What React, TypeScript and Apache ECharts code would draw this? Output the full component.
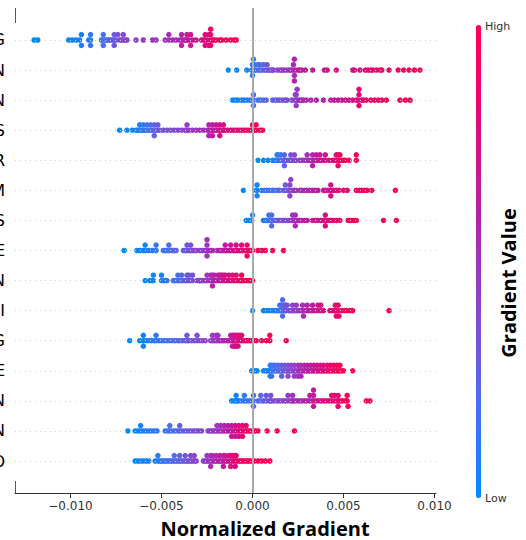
import React, { useEffect, useRef } from "react";
import * as echarts from "echarts";

// Feature labels (only the last letter is visible in the reference)
const featureLabels = ["G", "N", "N", "S", "R", "M", "S", "E", "N", "I", "G", "E", "N", "N", "O"];
const tickValues = [-0.01, -0.005, 0, 0.005, 0.01];

// Normalized gradient values per feature row, in units of 1e-3
const row01 = [-12.0, -11.8, -10.1, -9.9, -9.7, -9.5, -9.4, -9.4, -9.0, -8.9, -8.9, -8.9,
  -8.3, -8.2, -8.2, -8.1, -8.0, -7.9, -7.8, -7.7, -7.6, -7.6, -7.5, -7.4, -7.3, -7.2, -7.1, -7.1, -7.0, -6.9, -8.2, -7.6,
  -6.4, -6.0, -5.5, -5.3, -4.8, -4.6, -4.6, -4.4,
  -4.2, -4.0, -3.9, -3.9, -3.8, -3.7, -3.6, -3.6, -3.5, -3.4, -3.4, -3.3, -3.1, -3.9,
  -2.8, -2.7, -2.6, -2.6, -2.5, -2.4, -2.4, -2.3, -2.3, -2.3, -2.3, -2.2, -2.15, -2.6,
  -2.0, -1.8, -1.7, -1.45, -1.2, -1.0, -0.9];
const row02 = [-1.33, -0.87, -0.32,
  -0.05, 0.0, 0.0, 0.0, 0.05, 0.1, 0.1, 0.2, 0.3, 0.35, 0.45, 0.55, 0.6, 0.7, 0.8, 0.8, 0.9, 1.0, 1.1, 1.15, 0.4,
  1.35, 1.5, 1.6, 1.7, 1.85, 2.0, 2.1, 2.2, 2.25, 2.3, 2.3, 2.3, 2.35, 2.5, 2.6, 2.7, 2.9, 3.3,
  3.95, 4.1, 4.6, 5.5, 5.6, 5.9,
  6.2, 6.35, 6.5, 6.6, 6.8, 7.0, 7.1, 7.5, 8.0, 8.3, 8.6, 8.9, 9.2];
const row03 = [-1.1, -0.95, -0.8, -0.6, -0.45, -0.3, -0.15,
  0.0, 0.05, 0.05, 0.05, 0.3, 0.45, 0.6, 0.75,
  1.1, 1.25, 1.4, 1.5, 1.65, 1.8, 1.9,
  2.15, 2.3, 2.35, 2.4, 2.4, 2.4, 2.45, 2.5, 2.6, 2.7, 2.8, 2.95,
  3.2, 3.5, 3.9, 4.3, 4.5, 4.7, 4.9, 5.1, 5.3,
  5.5, 5.7, 5.8, 5.85, 5.85, 5.85, 6.0, 6.1, 6.25,
  6.5, 6.7, 6.9, 7.1, 7.35, 8.1, 8.4, 8.65];
const row04 = [-7.3, -6.9, -6.6,
  -6.4, -6.3, -6.2, -6.2, -6.1, -6.0, -6.0, -5.9, -5.8, -5.8, -5.7, -5.6, -5.6, -5.5, -5.4, -5.4, -5.4, -5.3, -5.2, -5.2, -5.1,
  -4.9, -4.7, -4.5, -4.3, -4.1, -3.9, -3.7, -3.6, -3.6, -3.5, -3.3, -3.1, -2.9, -2.7,
  -2.5, -2.4, -2.4, -2.4, -2.3, -2.2, -2.2, -2.2, -2.1, -2.0, -2.0, -1.9, -1.8, -1.8, -1.8, -1.7, -1.6, -1.6, -1.5,
  -1.35, -1.2, -1.05, -0.9, -0.75, -0.6, -0.45, -0.3, -0.15, 0.0, 0.0, 0.1, 0.2, 0.2, 0.4, 0.55];
const row05 = [0.3, 0.6, 0.85,
  1.1, 1.2, 1.3, 1.35, 1.4, 1.4, 1.5, 1.55, 1.55, 1.6, 1.7, 1.75, 1.75, 1.75, 1.8, 1.9, 2.0, 2.1, 2.1, 2.2, 2.3, 2.3, 2.4,
  2.6, 2.7, 2.8, 2.9, 3.0, 3.0, 3.1, 3.2, 3.3, 3.3, 3.3, 3.4, 3.5, 3.5, 3.6, 3.7, 3.7, 3.8, 3.9, 4.0, 4.0, 4.2, 4.4,
  4.5, 4.6, 4.6, 4.7, 4.7, 4.7, 4.8, 4.8, 4.9, 5.0, 5.1, 5.3, 5.7, 5.7];
const row06 = [-0.5,
  0.2, 0.25, 0.25, 0.25, 0.5, 0.65, 0.8, 0.95, 1.1, 1.25, 1.4, 1.5,
  1.7, 1.8, 1.8, 1.9, 2.0, 2.05, 2.05, 2.05, 2.1, 2.2, 2.3, 2.4,
  2.6, 2.7, 2.85, 3.0, 3.15, 3.3, 3.45, 3.6,
  3.9, 4.0, 4.15, 4.3, 4.3, 4.3, 4.45, 4.6, 4.75, 5.0, 5.2,
  5.7, 5.85, 6.0, 6.15, 6.3, 6.55, 7.85];
const row07 = [-0.35, -0.2, -0.05, 0.0,
  0.6, 0.7, 0.8, 0.9, 0.9, 1.0, 1.05, 1.05, 1.05, 1.1, 1.2, 1.3, 1.4, 1.5, 1.6, 1.7, 1.8,
  1.95, 2.05, 2.15, 2.2, 2.2, 2.25, 2.35, 2.35, 2.35, 2.45, 2.55, 2.7, 2.85, 3.0,
  3.3, 3.45, 3.6, 3.75, 3.9, 4.0, 4.0, 4.0, 4.15, 4.3, 4.45, 4.6, 4.8,
  5.25, 5.4, 5.55, 5.7, 7.2, 7.9];
const row08 = [-7.05,
  -6.35, -6.2, -6.0, -5.9, -5.9, -5.7, -5.5, -5.3, -5.3,
  -4.9, -4.8, -4.7, -4.6, -4.6, -4.5, -4.4, -4.3, -4.2,
  -3.8, -3.7, -3.6, -3.6, -3.5, -3.4, -3.4, -3.3, -3.2, -3.1,
  -2.9, -2.75, -2.6, -2.5, -2.5, -2.5, -2.5, -2.4, -2.3, -2.2,
  -1.95, -1.8, -1.7, -1.6, -1.5, -1.5, -1.4, -1.3, -1.2, -1.2, -1.1, -1.0, -0.9, -0.9, -0.8, -0.7, -0.6, -0.6,
  -0.5, -0.4, -0.3, -0.3, -0.3, -0.2, -0.1, 0.0, 0.3, 0.5, 0.7, 1.1, 1.7];
const row09 = [-5.9, -5.65, -5.5, -5.45, -5.45,
  -5.0, -5.0, -4.9, -4.8, -4.7,
  -4.35, -4.3, -4.2, -4.1, -4.1, -4.0, -3.9, -3.9, -3.8, -3.7, -3.6, -3.6, -3.5, -3.5, -3.4, -3.3, -3.3,
  -3.05, -2.95, -2.9, -2.85, -2.75, -2.7, -2.6, -2.5, -2.5, -2.4, -2.3, -2.3, -2.2, -2.2, -2.2, -2.1, -2.1, -2.0, -1.9, -1.9,
  -1.8, -1.8, -1.7, -1.7, -1.6, -1.6, -1.5, -1.5, -1.4, -1.3, -1.3, -1.2, -1.1, -1.1, -1.0, -0.9, -0.9, -0.8, -0.7,
  -0.6, -0.6, -0.5, -0.4, -0.3, -0.2, -0.1, 0.0];
const row10 = [0.0,
  0.6, 0.75, 0.9, 1.05, 1.15,
  1.3, 1.4, 1.5, 1.5, 1.55, 1.6, 1.65, 1.65, 1.65, 1.65, 1.7, 1.75, 1.8, 1.8, 1.85, 1.9,
  2.0, 2.1, 2.2, 2.2, 2.3, 2.4, 2.4, 2.5, 2.6, 2.7, 2.75, 2.75, 2.8, 2.9, 3.0, 3.0, 3.1, 3.2, 3.3, 3.3, 3.45, 3.6, 3.6, 3.75, 3.75, 3.9,
  4.25, 4.4, 4.5, 4.55, 4.55, 4.6, 4.7, 4.7, 4.75, 4.9, 5.05, 5.2, 5.35, 5.5, 7.5];
const row11 = [-6.75,
  -6.2, -6.0, -6.0, -6.0, -5.85, -5.7, -5.55, -5.4, -5.3, -5.3, -5.15, -5.0, -4.85, -4.7, -4.55, -4.4, -4.25, -4.1,
  -4.0, -3.85, -3.7, -3.6, -3.6, -3.5, -3.35, -3.2, -3.05, -3.05, -2.9, -2.75, -2.6,
  -2.3, -2.2, -2.2, -2.1, -2.0, -2.0, -1.9, -1.9, -1.8, -1.7, -1.6, -1.5, -1.4, -1.3, -1.2, -1.2,
  -1.1, -1.1, -1.1, -1.0, -1.0, -1.0, -0.9, -0.9, -0.9, -0.8, -0.8, -0.8, -0.7, -0.7, -0.6, -0.6,
  -0.5, -0.4, -0.3, -0.2, -0.1, 0.0, 0.05, 0.2, 0.5, 0.75, 0.95, 0.95, 1.85];
const row12 = [-0.05, 0.05, 0.15, 0.25,
  0.6, 0.72, 0.8, 0.9, 0.97, 1.05, 1.16, 1.25, 1.33, 1.42, 1.5, 1.6, 1.68, 1.77, 1.85, 1.95, 2.05, 2.12, 2.2, 2.3,
  2.38, 2.5, 2.58, 2.66, 2.75, 2.85, 2.93, 3.02, 3.1, 3.2, 3.28, 3.38, 3.47, 3.55, 3.65, 3.73, 3.82, 3.9, 4.0,
  4.1, 4.18, 4.27, 4.35, 4.45, 4.55, 4.63, 4.72, 4.8, 4.9, 5.0,
  0.97, 1.05, 1.16, 1.25, 1.42, 1.6, 1.77, 1.95, 2.12, 2.3, 2.5, 2.66, 2.85, 3.02, 3.2, 3.38, 3.55, 3.73, 3.9,
  4.1, 4.27, 4.45, 4.63, 4.8,
  0.97, 1.05, 1.6, 1.95, 2.3, 2.5, 2.66, 5.5];
const row13 = [-1.15, -1.0, -0.9, -0.9, -0.85, -0.75, -0.6, -0.45, -0.45, -0.3, -0.15,
  0.0, 0.05, 0.05, 0.05,
  0.3, 0.45, 0.45, 0.6, 0.75, 0.75, 0.9, 1.0, 1.0, 1.05, 1.2, 1.35, 1.5, 1.65, 1.8, 1.95, 1.95, 2.1, 2.2, 2.2, 2.25, 2.4, 2.55, 2.7, 2.85,
  3.0, 3.15, 3.15, 3.3, 3.35, 3.35, 3.35, 3.45, 3.6, 3.75, 3.9, 4.05, 4.2, 4.35, 4.35, 4.5, 4.5, 4.65, 4.7, 4.7, 4.7,
  4.8, 4.95, 5.1, 5.2, 5.2, 5.25, 6.25, 6.45];
const row14 = [-6.85,
  -6.45, -6.3, -6.15, -6.15, -6.0, -5.85, -5.7, -5.55, -5.4, -5.25,
  -4.8, -4.65, -4.55, -4.55, -4.4, -4.25, -4.1, -4.0, -4.0, -3.85, -3.7, -3.55, -3.4, -3.25, -3.1, -2.95, -2.8,
  -2.45, -2.35, -2.25, -2.15, -2.05, -1.95, -1.95, -1.85, -1.75, -1.75, -1.65, -1.55, -1.55, -1.45, -1.35, -1.35,
  -1.25, -1.15, -1.15, -1.15, -1.05, -0.95, -0.95, -0.95, -0.85, -0.75, -0.75, -0.75, -0.65, -0.55, -0.55, -0.55,
  -0.45, -0.35, -0.35, -0.25, -0.15, -0.05, 0.05, 0.15, 0.3, 0.8, 1.35, 2.3];
const row15 = [-6.45, -6.3, -6.15, -6.0, -5.85, -5.7,
  -5.35, -5.2, -5.2, -5.1, -5.0, -4.9, -4.8, -4.7, -4.6, -4.5, -4.4, -4.3, -4.3, -4.2, -4.1, -4.0, -4.0, -3.9,
  -3.8, -3.7, -3.7, -3.6, -3.5, -3.4, -3.4, -3.3, -3.2, -3.2, -3.1,
  -2.7, -2.6, -2.5, -2.5, -2.4, -2.3, -2.3, -2.3, -2.2, -2.2, -2.1, -2.0, -2.0, -1.9, -1.8, -1.8, -1.7,
  -1.6, -1.6, -1.6, -1.5, -1.5, -1.4, -1.3, -1.3, -1.2, -1.2, -1.2, -1.1, -1.1, -1.0, -0.95, -0.95, -0.9, -0.9,
  -0.8, -0.7, -0.6, -0.5, -0.4, -0.3, -0.2, -0.1, 0.1, 0.3, 0.5, 0.7, 0.95];

const rows = [row01, row02, row03, row04, row05, row06, row07, row08, row09, row10, row11, row12, row13, row14, row15];

const UNIT = 1e-3;
const NBINS = 100;
const STEP = 0.18; // vertical offset per swarm layer, in row units

// Beeswarm layout (SHAP style): stack points that share a quantised bin
function buildRow(vals: number[], rowIndex: number) {
  const xs = vals.map((v) => v * UNIT);
  const n = xs.length;
  const order = xs.map((_, i) => i).sort((a, b) => xs[a] - xs[b]);
  const rank: number[] = new Array(n);
  order.forEach((idx, r) => (rank[idx] = n > 1 ? r / (n - 1) : 0.5));
  const min = xs[order[0]];
  const max = xs[order[n - 1]];
  const ys: number[] = new Array(n).fill(0);
  let last = NaN;
  let layer = 0;
  for (const i of order) {
    const q = Math.round((NBINS * (xs[i] - min)) / (max - min + 1e-12));
    if (q !== last) {
      layer = 0;
      last = q;
    }
    ys[i] = Math.ceil(layer / 2) * ((layer % 2) * 2 - 1);
    layer++;
  }
  return xs.map((x, i) => [x, rowIndex - ys[i] * STEP, rank[i]]);
}

const fmt = (v: number) => (v < 0 ? "\u2212" + Math.abs(v).toFixed(3) : v.toFixed(3));

export default function App() {
  const ref = useRef<HTMLDivElement>(null);
  useEffect(() => {
    if (!ref.current) return;
    const chart = echarts.init(ref.current, undefined, { renderer: "svg" });
    const points: number[][] = [];
    rows.forEach((r, i) => buildRow(r, i).forEach((p) => points.push(p)));

    chart.setOption({
      animation: false,
      backgroundColor: "#ffffff",
      grid: { left: 15, right: 90, top: 8, bottom: 47, outerBoundsMode: "none", containLabel: false },
      xAxis: {
        type: "value",
        min: -0.01305,
        max: 0.01008,
        axisLine: { show: true, onZero: false, lineStyle: { color: "#333333", width: 1 } },
        axisTick: { show: true, length: 5, customValues: tickValues, lineStyle: { color: "#333333" } },
        axisLabel: {
          customValues: tickValues,
          formatter: (v: number) => fmt(v),
          color: "#333333",
          fontSize: 12,
          fontFamily: "DejaVu Sans",
          margin: 7,
        },
        splitLine: { show: false },
      },
      yAxis: {
        type: "value",
        min: -1.064,
        max: 15.064,
        inverse: true,
        axisLine: { show: false, onZero: false },
        axisTick: { show: false },
        splitLine: { show: false },
        axisLabel: {
          customValues: featureLabels.map((_, i) => i),
          formatter: (v: number) => featureLabels[Math.round(v)] ?? "",
          color: "#000000",
          fontSize: 16,
          fontFamily: "DejaVu Sans",
          align: "right",
          margin: 10,
        },
      },
      visualMap: {
        type: "continuous",
        min: 0,
        max: 1,
        dimension: 2,
        seriesIndex: 1,
        orient: "vertical",
        left: 476,
        top: 25,
        itemWidth: 5,
        itemHeight: 473,
        padding: 0,
        calculable: false,
        text: null,
        showLabel: false,
        hoverLink: false,
        inRange: { color: ["#008bfb", "#4a6ff0", "#8a45d0", "#b81fa8", "#e00a78", "#ff0052"] },
      },
      series: [
        {
          type: "scatter",
          data: [],
          z: 1,
          silent: true,
          markLine: {
            silent: true,
            symbol: ["none", "none"],
            label: { show: false },
            data: [
              ...featureLabels.map((_, i) => ({
                yAxis: i,
                lineStyle: { type: [1, 4], color: "#cccccc", width: 1 },
              })),
              { xAxis: 0, lineStyle: { type: "solid", color: "#aaaaaa", width: 2 } },
            ],
          },
        },
        {
          type: "scatter",
          z: 3,
          symbolSize: 5.5,
          data: points,
          itemStyle: { opacity: 1 },
        },
      ],
      graphic: [
        { type: "line", shape: { x1: 15.5, y1: 8, x2: 15.5, y2: 23 }, style: { stroke: "#555555", lineWidth: 1 } },
        { type: "line", shape: { x1: 15.5, y1: 481, x2: 15.5, y2: 493 }, style: { stroke: "#555555", lineWidth: 1 } },
        {
          type: "text",
          x: 485,
          y: 26,
          style: { text: "High", fill: "#333333", fontSize: 11, fontFamily: "DejaVu Sans", verticalAlign: "middle" },
        },
        {
          type: "text",
          x: 485,
          y: 498,
          style: { text: "Low", fill: "#333333", fontSize: 11, fontFamily: "DejaVu Sans", verticalAlign: "middle" },
        },
        {
          type: "text",
          x: 508,
          y: 283,
          rotation: Math.PI / 2,
          style: {
            text: "Gradient Value",
            fill: "#000000",
            fontSize: 20,
            fontWeight: "bold",
            fontFamily: "Open Sans",
            align: "center",
            verticalAlign: "middle",
          },
        },
        {
          type: "text",
          x: 265,
          y: 528,
          style: {
            text: "Normalized Gradient",
            fill: "#000000",
            fontSize: 20,
            lineHeight: 20,
            fontWeight: "bold",
            fontFamily: "Open Sans",
            align: "center",
            verticalAlign: "middle",
          },
        },
      ],
    });
    return () => chart.dispose();
  }, []);
  return <div ref={ref} style={{ position: "absolute", left: 0, top: 0, width: 526, height: 540 }} />;
}
